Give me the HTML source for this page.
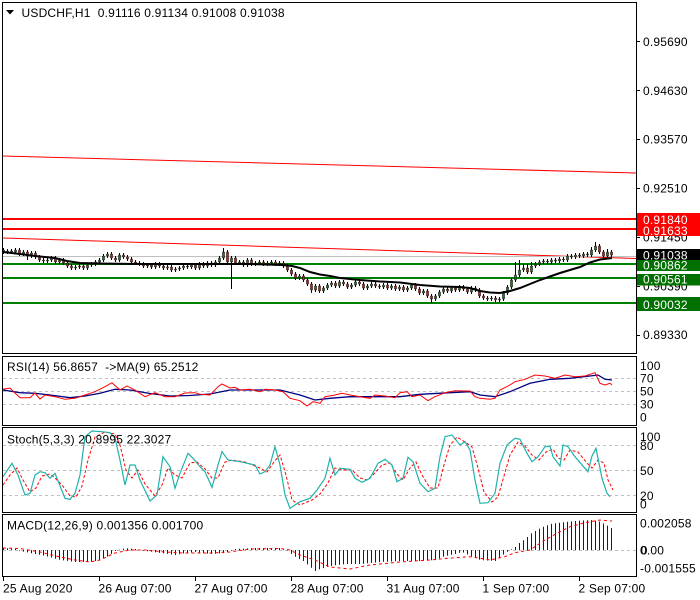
<!DOCTYPE html>
<html>
<head>
<meta charset="utf-8">
<style>
  html,body{margin:0;padding:0;background:#fff;}
  svg{display:block;}
  text{font-family:"Liberation Sans",Arial,sans-serif;font-size:12px;fill:#000;white-space:pre;letter-spacing:0.2px;}
  .w{fill:#fff;}
</style>
</head>
<body>
<svg width="700" height="600" viewBox="0 0 700 600" xmlns="http://www.w3.org/2000/svg">
  <rect x="0" y="0" width="700" height="600" fill="#fff"/>

  <!-- ============ MAIN PANEL ============ -->
  <line x1="3" y1="156" x2="636" y2="173" stroke="#ff0000" stroke-width="1"/>
  <line x1="3" y1="238" x2="636" y2="258.5" stroke="#ff0000" stroke-width="1"/>
  <line x1="3" y1="256.5" x2="636" y2="256.5" stroke="#c0c0c0" stroke-width="1"/>
  <line x1="3" y1="219" x2="636" y2="219" stroke="#ff0000" stroke-width="2"/>
  <line x1="3" y1="229" x2="636" y2="229" stroke="#ff0000" stroke-width="2"/>
  <line x1="3" y1="264" x2="636" y2="264" stroke="#008000" stroke-width="2"/>
  <line x1="3" y1="278" x2="636" y2="278" stroke="#008000" stroke-width="2"/>
  <line x1="3" y1="303" x2="636" y2="303" stroke="#008000" stroke-width="2"/>

  <path fill="none" stroke="#000" stroke-width="1" d="M3.5 248V254M7.5 249V254M11.5 249V254M15.5 248V254M19.5 248V256M23.5 250V256M27.5 250V260M31.5 251V258M35.5 251V259M39.5 255V262M43.5 258V263M47.5 258V263M51.5 256V262M55.5 256V264M59.5 258V264M63.5 258V265M67.5 261V268M71.5 264V270M75.5 265V270M79.5 264V269M83.5 264V270M87.5 263V270M91.5 262V267M95.5 260V266M99.5 258V264M103.5 254V262M107.5 252V258M111.5 252V260M115.5 256V262M119.5 253V262M123.5 253V259M127.5 255V261M131.5 257V264M135.5 260V265M139.5 261V266M143.5 262V268M147.5 263V268M151.5 263V269M155.5 262V269M159.5 262V268M163.5 264V270M167.5 265V270M171.5 265V272M175.5 267V272M179.5 266V271M183.5 264V270M187.5 264V269M191.5 263V269M195.5 263V270M199.5 262V270M203.5 262V268M207.5 261V268M211.5 261V267M215.5 260V267M219.5 256V264M223.5 248V260M227.5 250V264M231.5 256V289M235.5 256V265M239.5 260V265M243.5 260V267M247.5 258V267M251.5 258V266M255.5 261V266M259.5 260V265M263.5 260V266M267.5 261V266M271.5 260V265M275.5 260V266M279.5 261V266M283.5 261V268M287.5 264V272M291.5 268V276M295.5 272V280M299.5 274V280M303.5 274V282M307.5 278V286M311.5 282V293M315.5 284V292M319.5 284V293M323.5 286V293M327.5 283V290M331.5 281V287M335.5 281V288M339.5 280V288M343.5 280V286M347.5 282V289M351.5 283V289M355.5 280V287M359.5 280V286M363.5 282V290M367.5 284V290M371.5 282V288M375.5 282V288M379.5 284V289M383.5 283V289M387.5 283V290M391.5 284V290M395.5 284V291M399.5 285V291M403.5 285V292M407.5 286V292M411.5 283V290M415.5 283V291M419.5 287V295M423.5 289V295M427.5 289V298M431.5 294V303M435.5 294V301M439.5 290V298M443.5 287V294M447.5 287V293M451.5 286V293M455.5 286V292M459.5 285V292M463.5 285V291M467.5 287V294M471.5 286V294M475.5 286V292M479.5 288V298M483.5 294V300M487.5 296V301M491.5 296V301M495.5 296V302M499.5 297V302M503.5 291V301M507.5 285V295M511.5 278V289M515.5 262V282M519.5 260V277M523.5 264V272M527.5 264V274M531.5 262V274M535.5 262V268M539.5 260V266M543.5 259V264M547.5 259V264M551.5 258V264M555.5 258V263M559.5 257V263M563.5 257V262M567.5 254V262M571.5 254V259M575.5 253V259M579.5 253V258M583.5 252V258M587.5 252V257M591.5 247V257M595.5 242V252M599.5 244V254M603.5 250V258M607.5 249V258M611.5 250V257"/>

  <path fill="#e01010" stroke="#000" stroke-width="0.5" d="M2.5 250h2v2h-2zM10.5 251h2v1h-2zM18.5 250h2v4h-2zM26.5 252h2v4h-2zM34.5 253h2v4h-2zM38.5 257h2v3h-2zM42.5 260h2v1h-2zM54.5 258h2v4h-2zM62.5 260h2v3h-2zM66.5 263h2v3h-2zM70.5 266h2v2h-2zM82.5 266h2v2h-2zM110.5 254h2v4h-2zM114.5 258h2v2h-2zM122.5 255h2v2h-2zM126.5 257h2v2h-2zM130.5 259h2v3h-2zM134.5 262h2v1h-2zM138.5 263h2v1h-2zM142.5 264h2v2h-2zM150.5 265h2v2h-2zM158.5 264h2v2h-2zM162.5 266h2v2h-2zM170.5 267h2v3h-2zM186.5 266h2v1h-2zM194.5 265h2v3h-2zM202.5 264h2v2h-2zM210.5 263h2v2h-2zM226.5 252h2v10h-2zM234.5 258h2v5h-2zM242.5 262h2v3h-2zM250.5 260h2v4h-2zM262.5 262h2v2h-2zM274.5 262h2v2h-2zM282.5 263h2v3h-2zM286.5 266h2v4h-2zM290.5 270h2v4h-2zM294.5 274h2v4h-2zM302.5 276h2v4h-2zM306.5 280h2v4h-2zM310.5 284h2v6h-2zM318.5 286h2v5h-2zM334.5 283h2v3h-2zM342.5 282h2v2h-2zM346.5 284h2v3h-2zM358.5 282h2v2h-2zM362.5 284h2v4h-2zM374.5 284h2v2h-2zM378.5 286h2v1h-2zM386.5 285h2v3h-2zM394.5 286h2v3h-2zM402.5 287h2v3h-2zM414.5 285h2v4h-2zM418.5 289h2v4h-2zM426.5 291h2v5h-2zM430.5 296h2v3h-2zM446.5 289h2v2h-2zM454.5 288h2v2h-2zM462.5 287h2v2h-2zM466.5 289h2v3h-2zM474.5 288h2v2h-2zM478.5 290h2v6h-2zM482.5 296h2v2h-2zM486.5 298h2v1h-2zM494.5 298h2v2h-2zM526.5 268h2v4h-2zM546.5 261h2v1h-2zM554.5 260h2v1h-2zM562.5 259h2v1h-2zM570.5 256h2v1h-2zM578.5 255h2v1h-2zM586.5 254h2v1h-2zM598.5 246h2v6h-2zM602.5 252h2v4h-2zM610.5 252h2v3h-2z"/>
  <path fill="#1f7a1f" stroke="#000" stroke-width="0.5" d="M6.5 251h2v1h-2zM14.5 250h2v2h-2zM22.5 252h2v2h-2zM30.5 253h2v3h-2zM46.5 260h2v1h-2zM50.5 258h2v2h-2zM58.5 260h2v2h-2zM74.5 267h2v1h-2zM78.5 266h2v1h-2zM86.5 265h2v3h-2zM90.5 264h2v1h-2zM94.5 262h2v2h-2zM98.5 260h2v2h-2zM102.5 256h2v4h-2zM106.5 254h2v2h-2zM118.5 255h2v5h-2zM146.5 265h2v1h-2zM154.5 264h2v3h-2zM166.5 267h2v1h-2zM174.5 269h2v1h-2zM178.5 268h2v1h-2zM182.5 266h2v2h-2zM190.5 265h2v2h-2zM198.5 264h2v4h-2zM206.5 263h2v3h-2zM214.5 262h2v3h-2zM218.5 258h2v4h-2zM222.5 252h2v6h-2zM230.5 258h2v4h-2zM238.5 262h2v1h-2zM246.5 260h2v5h-2zM254.5 263h2v1h-2zM258.5 262h2v1h-2zM266.5 263h2v1h-2zM270.5 262h2v1h-2zM278.5 263h2v1h-2zM298.5 276h2v2h-2zM314.5 286h2v4h-2zM322.5 288h2v3h-2zM326.5 285h2v3h-2zM330.5 283h2v2h-2zM338.5 282h2v4h-2zM350.5 285h2v2h-2zM354.5 282h2v3h-2zM366.5 286h2v2h-2zM370.5 284h2v2h-2zM382.5 285h2v2h-2zM390.5 286h2v2h-2zM398.5 287h2v2h-2zM406.5 288h2v2h-2zM410.5 285h2v3h-2zM422.5 291h2v2h-2zM434.5 296h2v3h-2zM438.5 292h2v4h-2zM442.5 289h2v3h-2zM450.5 288h2v3h-2zM458.5 287h2v3h-2zM470.5 288h2v4h-2zM490.5 298h2v1h-2zM498.5 299h2v1h-2zM502.5 293h2v6h-2zM506.5 287h2v6h-2zM510.5 280h2v7h-2zM514.5 275h2v5h-2zM518.5 270h2v5h-2zM522.5 268h2v2h-2zM530.5 266h2v6h-2zM534.5 264h2v2h-2zM538.5 262h2v2h-2zM542.5 261h2v1h-2zM550.5 260h2v2h-2zM558.5 259h2v2h-2zM566.5 256h2v4h-2zM574.5 255h2v2h-2zM582.5 254h2v2h-2zM590.5 250h2v5h-2zM594.5 246h2v4h-2zM606.5 252h2v4h-2z"/>

  <polyline fill="none" stroke="#000" stroke-width="2" points="3,252 20,254 35,256 55,258 67,261 80,263 100,263.5 140,264 200,264 250,264 282,265 292,266 300,268 310,272 320,274.5 330,276 340,278 360,280 380,281.5 400,282.5 420,285 440,286.5 460,287 470,288 480,291 490,292.5 500,293 510,291 520,288 530,284 540,280 550,276.5 560,273 570,270 580,267 590,262.5 600,259.5 612,258"/>

  <rect x="2.5" y="2.5" width="634" height="351" fill="none" stroke="#000" stroke-width="1"/>

  <polygon points="6,10 14,10 10,14.5" fill="#000"/>
  <text x="21.5" y="17">USDCHF,H1  0.91116 0.91134 0.91008 0.91038</text>

  <path stroke="#000" stroke-width="1" d="M636 41.5h4M636 90.5h4M636 139.5h4M636 188.5h4M636 237.5h4M636 286.5h4M636 335.5h4"/>
  <text x="643" y="46">0.95690</text>
  <text x="643" y="94.8">0.94630</text>
  <text x="643" y="143.6">0.93570</text>
  <text x="643" y="192.4">0.92510</text>
  <text x="643" y="241.5">0.91450</text>
  <text x="643" y="290.3">0.90390</text>
  <text x="643" y="339.2">0.89330</text>

  <rect x="637" y="213" width="63" height="12" fill="#ff0000"/>
  <text class="w" x="643" y="224">0.91840</text>
  <rect x="637" y="224" width="63" height="12" fill="#ff0000"/>
  <text class="w" x="643" y="235">0.91633</text>
  <rect x="637" y="249" width="63" height="11" fill="#000"/>
  <text class="w" x="643" y="259.3">0.91038</text>
  <rect x="637" y="260" width="63" height="11" fill="#007000"/>
  <text class="w" x="643" y="269.6">0.90862</text>
  <rect x="637" y="274" width="63" height="11.5" fill="#007000"/>
  <text class="w" x="643" y="283.6">0.90561</text>
  <rect x="637" y="297" width="63" height="14" fill="#007000"/>
  <text class="w" x="643" y="309">0.90032</text>

  <!-- ============ RSI PANEL ============ -->
  <path stroke="#c0c0c0" stroke-width="1" stroke-dasharray="3 3" d="M3 378.5H636M3 391.5H636M3 404.5H636"/>
  <polyline fill="none" stroke="#000080" stroke-width="1.3" points="3,390 20,392.7 35,393.3 50,395 70,397.7 85,396 100,393.3 115,389.3 130,390 150,393.5 170,396 190,395.5 210,394 230,390 250,390 280,390 300,395 315,400 330,398.3 350,396.7 400,396.7 420,394.3 450,392.7 470,391.7 480,395 495,396.7 510,391.7 530,383.3 550,379.3 570,378.3 590,376 598,375 605,379.3 612,380"/>
  <polyline fill="none" stroke="#ff0000" stroke-width="1" points="3,389.3 10,388 15,393 20,397.7 30,397.7 35,393 40,399 45,395 55,396.7 65,399.3 75,398.3 85,395 95,391.7 105,386.7 112,382.7 120,390 127,386 135,390 145,396.7 155,392.7 165,396.7 175,396.7 185,393 195,392.7 200,394.3 210,395 218,386.7 222,384 230,388 235,387.3 240,390 250,389.3 260,391.7 265,389.3 275,390 283,391.7 290,398.3 300,400.7 307,406 313,401.7 320,403.3 325,396.7 335,395 342,393.3 350,395 360,396.7 370,398.3 375,395 385,396 395,397.7 400,392.7 407,391.7 412,396.7 420,395 428,400.7 435,396.7 445,392.7 455,390.7 465,391 470,391 475,396.7 480,398.3 490,399.3 495,398.3 500,390 510,385 515,381.7 525,379.3 535,375 545,376 555,378.3 565,375 575,376.7 585,376 595,372.7 600,383.3 605,385 610,383.3 612,385"/>
  <rect x="2.5" y="356.5" width="634" height="69" fill="none" stroke="#000" stroke-width="1"/>
  <text x="7" y="371">RSI(14) 56.8657  -&gt;MA(9) 65.2512</text>
  <text x="640" y="370">100</text>
  <text x="640" y="382.6">70</text>
  <text x="640" y="395.6">50</text>
  <text x="640" y="408.6">30</text>
  <text x="640" y="421.3">0</text>

  <!-- ============ STOCH PANEL ============ -->
  <path stroke="#c0c0c0" stroke-width="1" stroke-dasharray="3 3" d="M3 445.5H636M3 470.5H636M3 495.5H636"/>
  <polyline fill="none" stroke="#ff0000" stroke-width="1" stroke-dasharray="3 2" points="3,485 10,475 17,468 23,480 30,492 36,488 42,476 50,474 55,478 62,485 70,496 76,497 82,486 88,460 95,437 105,432 115,434 120,445 126,470 132,478 138,470 145,484 155,496 162,485 168,468 175,475 182,478 190,463 197,462 205,469 212,478 218,478 225,462 232,460 245,462 260,468 267,472 274,462 280,455 286,475 292,500 300,505 312,500 320,494 328,483 335,468 342,470 352,470 360,478 367,480 373,475 382,465 390,463 397,474 403,480 410,468 416,462 422,475 430,488 438,488 444,465 450,445 457,437 465,442 472,447 478,468 484,492 492,502 498,497 504,476 510,455 518,442 525,446 532,455 539,460 546,452 553,449 558,458 564,460 570,450 578,452 587,463 592,468 598,460 604,463 608,480 613,490"/>
  <polyline fill="none" stroke="#20b2aa" stroke-width="1.2" points="3,476.7 12,463.3 18,475 25,495 30,493.3 35,475 40,471.7 45,472.7 50,478.3 55,473.3 65,498.3 70,499.3 75,493.3 80,475 85,436.7 92,431 102,431.7 110,432.7 115,438.3 120,460 125,485 130,465 135,465 140,480 150,501 157,495 163,456.7 170,466.7 175,488.3 180,473.3 188,453.3 193,458.3 200,466.7 205,471.7 212,487.3 218,465 222,451.7 228,460 240,461.7 255,465 260,474 265,471.7 270,465 275,446.7 280,465 285,495 290,508.3 300,501.7 310,498.3 317,490 325,478.3 330,458.3 335,475 340,468.3 350,469.3 355,478.3 362,482.3 370,478.3 378,463.3 385,459.3 392,465 397,481.7 403,478.3 408,457.3 413,461.7 420,483.3 428,491.7 435,488.3 440,456.7 445,436.7 452,435 460,445 465,441.7 470,450 475,480 480,503.3 488,502.7 495,493.3 500,463.3 507,445 515,438.3 520,439.3 527,453.3 532,461.7 538,456.7 545,446.7 550,446 553,456.7 560,466 563,445 568,446.7 575,456.7 585,468.3 588,471.7 592,456 596,448.3 602,478.3 607,493.3 610,496.7"/>
  <rect x="2.5" y="427.5" width="634" height="85" fill="none" stroke="#000" stroke-width="1"/>
  <text x="7" y="443.6">Stoch(5,3,3) 20.8995 22.3027</text>
  <text x="640" y="441">100</text>
  <text x="640" y="450">80</text>
  <text x="640" y="475">50</text>
  <text x="640" y="500">20</text>
  <text x="640" y="508.3">0</text>

  <!-- ============ MACD PANEL ============ -->
  <line x1="3" y1="550.5" x2="636" y2="550.5" stroke="#c0c0c0" stroke-width="1" stroke-dasharray="3 3"/>
  <path fill="none" stroke="#0000ff" stroke-width="1" d="M3.5 550V548M7.5 550V548.3M11.5 550V548.7M15.5 550V549M19.5 550V550.6M23.5 550V551.6M27.5 550V552.4M31.5 550V553.2M35.5 550V554M39.5 550V554.8M43.5 550V555.6M47.5 550V556.5M51.5 550V557.6M55.5 550V558.7M59.5 550V559.7M63.5 550V560.4M67.5 550V560.9M71.5 550V561.5M75.5 550V562M79.5 550V562M83.5 550V562M87.5 550V562M91.5 550V561.8M95.5 550V561M99.5 550V560.2M103.5 550V558.5M107.5 550V556.5M111.5 550V553.9M115.5 550V551M119.5 550V549.8M123.5 550V548.6M127.5 550V548.2M131.5 550V548.6M135.5 550V549M139.5 550V549.8M143.5 550V550.6M147.5 550V551.3M151.5 550V551.8M155.5 550V552.3M159.5 550V552.9M163.5 550V553.4M167.5 550V553.9M171.5 550V554.5M175.5 550V555M179.5 550V554.2M183.5 550V553.4M187.5 550V552.8M191.5 550V552.4M195.5 550V552M199.5 550V552.5M203.5 550V553.1M207.5 550V553.6M211.5 550V554M215.5 550V553.7M219.5 550V553.4M223.5 550V553.1M227.5 550V552.2M231.5 550V550.6M235.5 550V549M239.5 550V548.8M243.5 550V548.6M247.5 550V548.4M251.5 550V548.2M255.5 550V548M259.5 550V548M263.5 550V548M267.5 550V548M271.5 550V548M275.5 550V548M279.5 550V548M283.5 550V549.1M287.5 550V550.6M291.5 550V553.9M295.5 550V556.7M299.5 550V559.1M303.5 550V561M307.5 550V564.4M311.5 550V567.8M315.5 550V571M319.5 550V569.4M323.5 550V568.1M327.5 550V566.9M331.5 550V565.9M335.5 550V565.3M339.5 550V564.8M343.5 550V564.3M347.5 550V564M351.5 550V564M355.5 550V564M359.5 550V564M363.5 550V563.7M367.5 550V563.3M371.5 550V562.9M375.5 550V562.5M379.5 550V562.1M383.5 550V561.8M387.5 550V561.7M391.5 550V561.5M395.5 550V561.3M399.5 550V561.1M403.5 550V561M407.5 550V561M411.5 550V561M415.5 550V561M419.5 550V561M423.5 550V560.8M427.5 550V560.5M431.5 550V560.3M435.5 550V560M439.5 550V558.4M443.5 550V556.8M447.5 550V555.6M451.5 550V554.8M455.5 550V554M459.5 550V552.9M463.5 550V552.5M467.5 550V554.5M471.5 550V556.4M475.5 550V558M479.5 550V559.6M483.5 550V560.2M487.5 550V560.5M491.5 550V560.7M495.5 550V561M499.5 550V557.8M503.5 550V554.6M507.5 550V551.8M511.5 550V549.4M515.5 550V547M519.5 550V543M523.5 550V540.2M527.5 550V537M531.5 550V533.4M535.5 550V531M539.5 550V528.6M543.5 550V526.8M547.5 550V525.2M551.5 550V523.9M555.5 550V523.3M559.5 550V522.7M563.5 550V522.2M567.5 550V521.8M571.5 550V521.4M575.5 550V521M579.5 550V520.6M583.5 550V520.4M587.5 550V520.2M591.5 550V520.1M595.5 550V520.6M599.5 550V521.5M603.5 550V523.5M607.5 550V525.6M611.5 550V528"/>
  <polyline fill="none" stroke="#ff0000" stroke-width="1" stroke-dasharray="3 3" points="3,548 20,548.5 40,552 60,557 75,560 90,562 100,560 115,553 130,550 145,550 165,552 185,553 210,553 230,552 250,549 280,548.5 290,550 300,555 315,560 330,567 350,569 370,565 400,562 430,560 455,557.7 470,556.7 480,558.3 490,560 505,556.7 515,552.7 530,550 545,540 560,531.7 570,526.7 585,522.7 600,520 612,521"/>
  <rect x="2.5" y="514.5" width="634" height="62" fill="none" stroke="#000" stroke-width="1"/>
  <text x="7" y="529.3">MACD(12,26,9) 0.001356 0.001700</text>
  <text x="640" y="527.6">0.002058</text>
  <text x="640" y="554.3">0.00</text>
  <text x="640.7" y="554.3">0</text>
  <text x="640" y="572.6">-0.001555</text>

  <!-- ============ TIME AXIS ============ -->
  <path stroke="#000" stroke-width="1" d="M3.5 577V581M99.5 577V581M195.5 577V581M291.5 577V581M387.5 577V581M483.5 577V581M579.5 577V581"/>
  <text x="3" y="592.6">25 Aug 2020</text>
  <text x="98.5" y="592.6">26 Aug 07:00</text>
  <text x="194.5" y="592.6">27 Aug 07:00</text>
  <text x="290.5" y="592.6">28 Aug 07:00</text>
  <text x="386.5" y="592.6">31 Aug 07:00</text>
  <text x="482.5" y="592.6">1 Sep 07:00</text>
  <text x="578.5" y="592.6">2 Sep 07:00</text>
</svg>
</body>
</html>
